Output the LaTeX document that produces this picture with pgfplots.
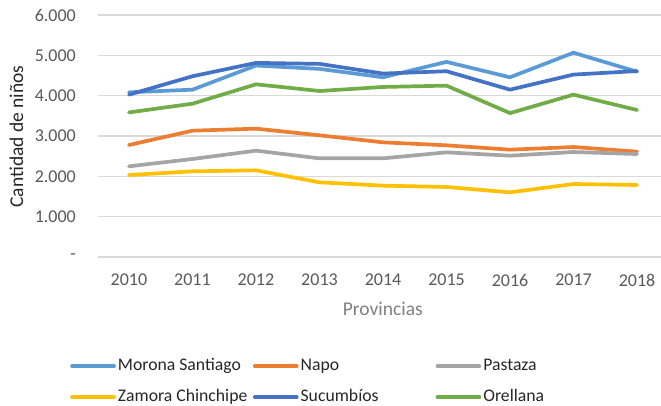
\documentclass[border=0pt]{standalone}
\usepackage{fontspec}
\setmainfont{Carlito}
\usepackage{pgfplots}
\pgfplotsset{compat=1.18}
\definecolor{cMorona}{HTML}{5B9BD5}
\definecolor{cNapo}{HTML}{ED7D31}
\definecolor{cPastaza}{HTML}{A5A5A5}
\definecolor{cZamora}{HTML}{FFC000}
\definecolor{cSucumbios}{HTML}{4472C4}
\definecolor{cOrellana}{HTML}{70AD47}
\definecolor{ticktext}{HTML}{595959}
\definecolor{gridgray}{HTML}{D9D9D9}

\begin{document}
\begin{tikzpicture}[x=1pt,y=1pt]
\path[use as bounding box] (0,0) rectangle (661,405);
\begin{axis}[
    at={(98pt,148pt)}, anchor=south west,
    scale only axis, width=563pt, height=242pt,
    xmin=2009.512, xmax=2018.378, ymin=0, ymax=6000,
    xtick={2010,2011,2012,2013,2014,2015,2016,2017,2018},
    xticklabels={2010,2011,2012,2013,2014,2015,2016,2017,2018},
    ytick={0,1000,2000,3000,4000,5000,6000},
    yticklabels={-,1.000,2.000,3.000,4.000,5.000,6.000},
    major tick length=0pt,
    axis line style={draw=none},
    ymajorgrids=true,
    grid style={gridgray, line width=1.5pt},
    tick label style={font=\fontsize{18}{21}\selectfont, text=ticktext},
    yticklabel style={anchor=east, inner sep=0pt, xshift=-22pt},
    xticklabel style={anchor=north, inner sep=0pt, yshift=-17pt},
    xlabel={Provincias},
    xlabel style={at={(axis description cs:0.506,-0.215)}, anchor=center,
        font=\fontsize{19.5}{23}\selectfont, text=gray},
    ylabel={Cantidad de niños},
    ylabel style={at={(axis description cs:-0.1448,0.498)}, anchor=center,
        font=\fontsize{19.5}{23}\selectfont, text=black!85},
    every axis plot/.append style={line width=3.7pt, line join=round, line cap=round, no markers},
    legend image code/.code={\draw[#1] (0pt,0pt) -- (42pt,0pt);},
    legend columns=3,
    legend style={at={(axis description cs:-0.0497,-0.409)}, anchor=north west,
        draw=none, fill=none, inner sep=0pt, column sep=0pt, row sep=11pt,
        font=\fontsize{17.7}{21}\selectfont, text=black!85,
        nodes={inner sep=2pt, text height=12pt, text depth=4pt}},
    legend cell align=left,
]
\addplot[cMorona] coordinates {(2010,4083) (2011,4149) (2012,4747) (2013,4664) (2014,4456) (2015,4838) (2016,4456) (2017,5065) (2018,4594)};
\addlegendentry{\makebox[133pt][l]{Morona Santiago}}
\addplot[cNapo] coordinates {(2010,2777) (2011,3132) (2012,3182) (2013,3017) (2014,2843) (2015,2769) (2016,2661) (2017,2727) (2018,2612)};
\addlegendentry{\makebox[133pt][l]{Napo}}
\addplot[cPastaza] coordinates {(2010,2248) (2011,2430) (2012,2636) (2013,2446) (2014,2446) (2015,2595) (2016,2512) (2017,2603) (2018,2553)};
\addlegendentry{\makebox[133pt][l]{Pastaza}}
\addplot[cZamora] coordinates {(2010,2033) (2011,2124) (2012,2149) (2013,1851) (2014,1769) (2015,1736) (2016,1603) (2017,1810) (2018,1785)};
\addlegendentry{\makebox[133pt][l]{Zamora Chinchipe}}
\addplot[cSucumbios] coordinates {(2010,4025) (2011,4481) (2012,4813) (2013,4788) (2014,4548) (2015,4606) (2016,4149) (2017,4523) (2018,4610)};
\addlegendentry{\makebox[133pt][l]{Sucumbíos}}
\addplot[cOrellana] coordinates {(2010,3585) (2011,3801) (2012,4282) (2013,4116) (2014,4216) (2015,4249) (2016,3568) (2017,4025) (2018,3645)};
\addlegendentry{\makebox[133pt][l]{Orellana}}
\end{axis}
\end{tikzpicture}
\end{document}
